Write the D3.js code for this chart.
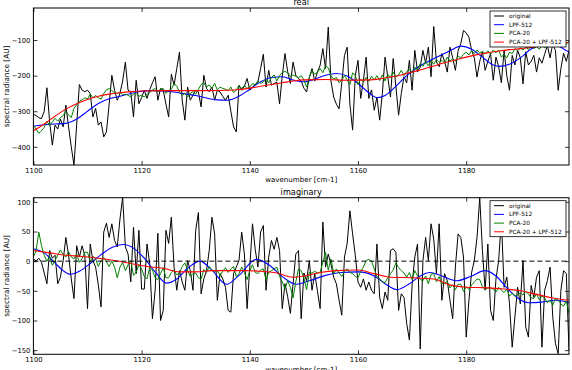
<!DOCTYPE html>
<html>
<head>
<meta charset="utf-8">
<script src="https://cdn.jsdelivr.net/npm/d3@7"></script>
<style>
  body { margin: 0; background: #fff; }
  svg { display: block; }
  text { font-family: "DejaVu Sans", sans-serif; fill: #000; }
</style>
</head>
<body>
<script>

//Wavenumber grid of the noisy series (0.5 cm-1 step)
var wavenumbers = d3.range(1100, 1199.01, 0.5);

//Real part
var realOriginal = [
  -309,-312,-318,-321,-300,-234,-330,-395,-339,-350,
  -322,-344,-283,-344,-400,-451,-338,-225,-241,-245,
  -241,-250,-316,-292,-339,-330,-372,-358,-280,-199,
  -241,-269,-250,-215,-162,-241,-246,-316,-213,-279,
  -262,-241,-264,-240,-220,-203,-269,-236,-241,-280,
  -316,-196,-227,-180,-134,-269,-325,-232,-269,-255,
  -241,-246,-288,-199,-236,-245,-232,-269,-241,-246,
  -258,-269,-255,-300,-344,-358,-227,-241,-230,-208,
  -241,-232,-225,-218,-180,-140,-232,-185,-227,-222,
  -218,-279,-200,-138,-189,-222,-162,-199,-208,-215,
  -235,-246,-205,-180,-215,-190,-171,-124,-180,-64,
  -215,-260,-280,-293,-220,-143,-120,-280,-353,-200,
  -157,-264,-213,-148,-264,-240,-297,-260,-325,-250,
  -148,-203,-260,-152,-230,-311,-250,-203,-220,-157,
  -241,-129,-190,-176,-129,-165,-120,-203,-62,-162,
  -175,-138,-160,-190,-120,-150,-185,-130,-110,-73,
  -80,-92,-129,-150,-204,-160,-133,-185,-160,-138,
  -213,-148,-175,-220,-129,-200,-241,-143,-170,-129,
  -150,-223,-133,-170,-160,-143,-190,-150,-165,-140,
  -115,-150,-110,-130,-241,-180,-137,-160,-129
];
var realPca = [
  -339,-350,-362,-355,-345,-328,-340,-330,-320,-328,
  -318,-312,-300,-310,-318,-292,-282,-272,-268,-262,
  -266,-252,-262,-256,-262,-266,-250,-240,-236,-242,
  -248,-250,-246,-254,-252,-255,-260,-252,-250,-258,
  -255,-260,-252,-248,-240,-236,-245,-238,-236,-250,
  -242,-238,-222,-230,-246,-255,-250,-260,-250,-245,
  -252,-238,-225,-220,-232,-226,-236,-222,-240,-232,
  -236,-238,-242,-232,-248,-240,-228,-236,-228,-236,
  -232,-222,-226,-215,-222,-218,-210,-220,-205,-198,
  -215,-200,-192,-188,-192,-202,-198,-202,-206,-200,
  -212,-232,-205,-186,-196,-190,-180,-192,-172,-178,
  -200,-210,-205,-220,-212,-200,-212,-225,-192,-200,
  -225,-210,-218,-205,-216,-202,-212,-200,-214,-198,
  -215,-196,-206,-190,-204,-198,-185,-200,-188,-182,
  -192,-176,-184,-166,-174,-160,-172,-158,-168,-155,
  -163,-157,-165,-148,-160,-152,-160,-145,-150,-140,
  -134,-142,-130,-138,-128,-136,-132,-138,-130,-140,
  -128,-136,-128,-148,-140,-150,-134,-138,-124,-130,
  -122,-128,-120,-126,-116,-124,-118,-126,-115,-122,
  -112,-120,-110,-118,-108,-114,-105,-112,-104
];
var realLpfWn = [1100,1102,1104,1106,1108,1110,1112,1114,1116,1118,1120,1122,1124,1126,1128,1130,1132,1134,1136,1138,1140,1142,1144,1146,1148,1150,1152,1154,1156,1158,1160,1162,1163.5,1165,1167,1169,1171,1173,1175,1177,1179,1181,1183,1185,1186,1188,1190,1192,1194,1196,1198,1199];
var realLpf = [-342,-338,-336,-334,-322,-300,-278,-265,-258,-250,-244,-242,-243,-246,-251,-256,-263,-268,-269,-258,-238,-217,-205,-203,-212,-217,-210,-199,-194,-201,-222,-248,-262,-256,-230,-200,-177,-160,-145,-130,-117,-126,-148,-170,-174,-168,-150,-125,-114,-112,-125,-134];
var realBothWn = [1100,1102,1104,1106,1108,1110,1112,1114,1116,1118,1120,1124,1128,1132,1136,1138,1140,1142,1144,1146,1148,1150,1154,1158,1162,1164,1166,1168,1170,1172,1174,1176,1178,1180,1182,1184,1186,1188,1190,1192,1194,1196,1198,1199];
var realBoth = [-355,-336,-314,-294,-279,-267,-258,-252,-248,-245,-243,-242,-242,-242,-241,-239,-235,-230,-225,-220,-215,-212,-211,-213,-212,-209,-204,-198,-190,-182,-173,-164,-156,-148,-141,-136,-131,-127,-124,-121,-117,-113,-108,-106];

//Imaginary part
var imagOriginal = [
  4,0,5,-2,-20,-38,18,5,10,-38,
  -27,1,40,10,-30,-63,26,7,26,10,
  -80,29,1,-10,-40,-77,49,64,40,63,
  35,24,71,108,24,12,-35,57,-21,52,
  -47,-47,29,-4,-97,-49,47,-100,-83,52,
  30,74,-10,-49,-16,-35,-49,1,-16,-49,
  52,82,-55,-30,-16,18,74,46,-66,-21,
  -30,-44,-83,-86,-21,-10,1,49,12,-80,
  -10,63,20,-10,49,60,-49,7,35,20,
  40,18,-80,-38,-60,-88,-38,12,18,-97,
  -20,-33,1,-49,-21,-50,-80,66,-10,12,
  -5,-27,-38,-66,-91,7,30,85,46,10,
  -35,-44,-30,-49,-35,-49,-55,29,-61,-80,
  -52,-66,18,21,15,-83,-55,-61,-105,-133,
  -40,7,29,-148,1,40,1,63,37,-21,
  63,-66,-21,-33,-66,-97,-10,46,40,7,
  -128,-66,-19,1,40,107,18,-49,29,-83,
  -100,-30,1,70,-44,-27,-72,-145,-94,-44,
  -72,1,-111,-128,-41,-61,-27,-16,-145,-49,
  -33,-10,-94,-139,-156,-49,-16,-21,-150
];
var imagPca = [
  7,18,49,26,10,0,8,-7,1,10,
  19,11,7,16,7,4,12,-2,4,15,
  15,-1,8,4,-9,1,6,-1,-9,0,
  -10,-28,-10,-2,-16,-6,1,-24,-19,-6,
  -13,-26,-30,-10,-15,-28,-31,-21,-11,-28,
  -28,-19,-15,-23,-20,-9,-3,-15,-26,-21,
  -20,-28,-30,-14,-19,-9,-15,-17,-16,-24,
  -17,-11,-19,-13,-9,-26,-21,-10,-19,-31,
  -16,-6,-19,-21,-15,-13,-31,-19,-16,-13,
  -10,-26,-35,-47,-33,-44,-62,-35,-13,-16,
  -28,-48,-19,-20,-17,-20,-19,-2,15,-15,
  4,-21,-13,-20,-26,-17,-13,-19,-21,-26,
  -28,-17,-10,1,3,0,-13,-26,-30,-35,
  -36,-28,-21,-15,-3,-11,-16,-20,-27,-19,
  -31,-16,-25,-31,-33,-25,-38,-22,-21,-35,
  -26,-38,-37,-34,-45,-40,-48,-39,-39,-51,
  -43,-48,-40,-35,-30,-31,-43,-48,-45,-45,
  -47,-52,-44,-49,-53,-47,-59,-54,-59,-57,
  -53,-57,-51,-55,-62,-63,-55,-65,-59,-62,
  -70,-66,-74,-63,-66,-72,-76,-67,-88
];
var imagLpfWn = [1100,1102,1104,1105.5,1106.8,1108.5,1110.5,1112.5,1114.5,1116.6,1118.5,1120.5,1122.5,1124.6,1126.5,1128.5,1130.8,1133,1135.7,1138,1141.2,1143.5,1146,1148.6,1151,1154,1157,1160,1163,1165,1167.2,1169.5,1171.5,1173.3,1175.5,1178.2,1181,1183.4,1185.5,1187.5,1189.5,1191.5,1194,1196.5,1199];
var imagLpf = [21,14,-3,-16,-22,-17,-4,11,23,28,22,5,-18,-37,-30,-12,0,-15,-39,-24,3,-6,-26,-39,-33,-24,-19,-18,-25,-38,-48,-38,-25,-19,-25,-33,-25,-16,-25,-45,-62,-70,-69,-66,-70];
var imagBothWn = [1100,1103,1106,1109,1112,1115,1118,1121,1124,1127,1130,1133,1136,1139,1142,1145,1148,1150,1153,1156,1160,1163,1166,1170,1174,1177,1180,1184,1187,1190,1193,1196,1199];
var imagBoth = [18,14,10,8,5,1,-4,-9,-12,-18,-18,-16,-16,-16,-17,-20,-27,-25,-19,-16,-15,-21,-27,-28,-30,-40,-44,-45,-47,-50,-56,-62,-66];

//Axes ticks and legend
var xTicks = [1100, 1120, 1140, 1160, 1180];
var realYTicks = [-400, -300, -200, -100];
var imagYTicks = [-150, -100, -50, 0, 50, 100];
var seriesNames = ["original", "LPF-512", "PCA-20", "PCA-20 + LPF-512"];
var seriesColors = ["#000000", "#0000ff", "#008000", "#ff0000"];

var w = 572, h = 370;
var left = 33.4, right = 569;

var svg = d3.select("body").append("svg")
  .attr("width", w)
  .attr("height", h);

var x = d3.scaleLinear().domain([1100, 1199]).range([left, right]);

function zipPts(xs, ys) {
  return xs.map((d, i) => [d, ys[i]]);
}

function drawPanel(p) {
  var y = d3.scaleLinear().domain(p.yDomain).range([p.bottom, p.top]);
  var g = svg.append("g");

  //Clip lines to the plot area
  svg.append("defs").append("clipPath")
    .attr("id", p.id)
    .append("rect")
      .attr("x", left).attr("y", p.top)
      .attr("width", right - left).attr("height", p.bottom - p.top);

  var plot = g.append("g").attr("clip-path", "url(#" + p.id + ")");
  var line = d3.line().x(d => x(d[0])).y(d => y(d[1]));
  var smooth = d3.line().curve(d3.curveMonotoneX).x(d => x(d[0])).y(d => y(d[1]));

  plot.append("path")
    .attr("d", line(zipPts(wavenumbers, p.original)))
    .attr("fill", "none").attr("stroke", seriesColors[0]).attr("stroke-width", 1);
  plot.append("path")
    .attr("d", smooth(zipPts(p.lpfWn, p.lpf)))
    .attr("fill", "none").attr("stroke", seriesColors[1]).attr("stroke-width", 1.1);
  plot.append("path")
    .attr("d", line(zipPts(wavenumbers, p.pca)))
    .attr("fill", "none").attr("stroke", seriesColors[2]).attr("stroke-width", 1);
  plot.append("path")
    .attr("d", smooth(zipPts(p.bothWn, p.both)))
    .attr("fill", "none").attr("stroke", seriesColors[3]).attr("stroke-width", 1.1);

  if (p.zeroLine) {
    plot.append("line")
      .attr("x1", left).attr("x2", right)
      .attr("y1", y(0)).attr("y2", y(0))
      .attr("stroke", "#000").attr("stroke-width", 1)
      .attr("stroke-dasharray", "5,3");
  }

  //Inward ticks on all four sides
  g.append("g")
    .attr("transform", "translate(0," + p.bottom + ")")
    .call(d3.axisBottom(x).tickValues(xTicks).tickSizeInner(-4).tickSizeOuter(0).tickPadding(3).tickFormat(d3.format("d")));
  g.append("g")
    .attr("transform", "translate(0," + p.top + ")")
    .call(d3.axisTop(x).tickValues(xTicks).tickSizeInner(-4).tickSizeOuter(0).tickFormat(""));
  g.append("g")
    .attr("transform", "translate(" + left + ",0)")
    .call(d3.axisLeft(y).tickValues(p.yTicks).tickSizeInner(-4).tickSizeOuter(0).tickPadding(3));
  g.append("g")
    .attr("transform", "translate(" + right + ",0)")
    .call(d3.axisRight(y).tickValues(p.yTicks).tickSizeInner(-4).tickSizeOuter(0).tickFormat(""));

  g.selectAll(".domain").remove();
  g.selectAll(".tick line").attr("stroke", "#000").attr("stroke-width", 0.8);
  g.selectAll(".tick text")
    .style("font-family", "'DejaVu Sans', sans-serif")
    .style("font-size", "6.8px")
    .attr("fill", "#000");

  //Frame
  g.append("rect")
    .attr("x", left).attr("y", p.top)
    .attr("width", right - left).attr("height", p.bottom - p.top)
    .attr("fill", "none").attr("stroke", "#000").attr("stroke-width", 1);

  //Labels and title
  g.append("text")
    .attr("x", (left + right) / 2).attr("y", p.bottom + 17.3)
    .attr("text-anchor", "middle")
    .style("font-size", "7.1px")
    .text("wavenumber [cm-1]");
  g.append("text")
    .attr("transform", "translate(9.3," + (p.top + p.bottom) / 2 + ") rotate(-90)")
    .attr("text-anchor", "middle")
    .style("font-size", "7.3px")
    .text("spectral radiance [AU]");
  g.append("text")
    .attr("x", (left + right) / 2).attr("y", p.top - 3)
    .attr("text-anchor", "middle")
    .style("font-size", "8.2px")
    .text(p.title);

  //Legend
  var lg = g.append("g").attr("transform", "translate(490," + (p.top + 3) + ")");
  lg.append("rect")
    .attr("width", 76).attr("height", 36)
    .attr("fill", "#fff").attr("stroke", "#000").attr("stroke-width", 0.8);
  seriesNames.forEach((name, i) => {
    var cy = 5 + i * 8.7;
    lg.append("line")
      .attr("x1", 4).attr("x2", 14).attr("y1", cy).attr("y2", cy)
      .attr("stroke", seriesColors[i]).attr("stroke-width", 1);
    lg.append("text")
      .attr("x", 19).attr("y", cy)
      .attr("dy", "0.35em")
      .style("font-size", "5.8px")
      .text(name);
  });
}

drawPanel({
  id: "clipReal", title: "real",
  top: 8, bottom: 165, yDomain: [-451, -10], yTicks: realYTicks,
  original: realOriginal, pca: realPca,
  lpfWn: realLpfWn, lpf: realLpf, bothWn: realBothWn, both: realBoth,
  zeroLine: false
});

drawPanel({
  id: "clipImag", title: "imaginary",
  top: 197.7, bottom: 354.3, yDomain: [-157, 107], yTicks: imagYTicks,
  original: imagOriginal, pca: imagPca,
  lpfWn: imagLpfWn, lpf: imagLpf, bothWn: imagBothWn, both: imagBoth,
  zeroLine: true
});

</script>
</body>
</html>
